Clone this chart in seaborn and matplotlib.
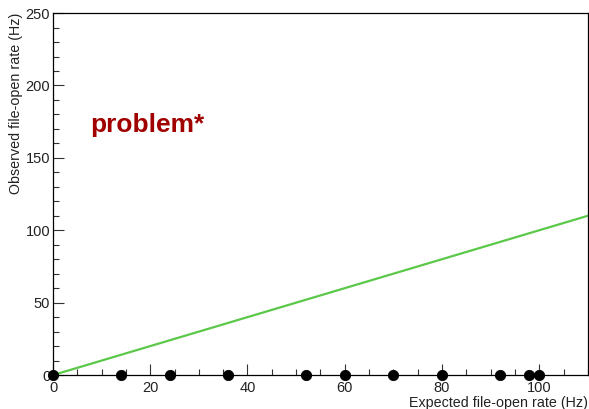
import matplotlib
matplotlib.use("Agg")
import matplotlib.pyplot as plt
from matplotlib.ticker import MultipleLocator
import seaborn as sns
import pandas as pd

# measured points (expected vs observed file-open rate)
expected_hz = [0, 14, 24, 36, 52, 60, 70, 80, 92, 98, 100]
observed_hz = [0, 0, 0, 0, 0, 0, 0, 0, 0, 0, 0]

# ideal y = x reference line
ideal_x = [0, 110]
ideal_y = [0, 110]

pts = pd.DataFrame({"expected": expected_hz, "observed": observed_hz})
ref = pd.DataFrame({"x": ideal_x, "y": ideal_y})

sns.set_theme(style="white")
plt.rcParams["font.family"] = ["Liberation Sans", "DejaVu Sans"]

fig = plt.figure(figsize=(5.89, 4.09), dpi=100)
ax = fig.add_axes([0.090, 0.083, 0.908, 0.885])

sns.lineplot(data=ref, x="x", y="y", ax=ax, color="#5cc84a", linewidth=1.6)
sns.scatterplot(data=pts, x="expected", y="observed", ax=ax, color="black",
                s=55, edgecolor="black", zorder=5, clip_on=False)

ax.set_xlim(0, 110)
ax.set_ylim(0, 250)
ax.xaxis.set_major_locator(MultipleLocator(20))
ax.xaxis.set_minor_locator(MultipleLocator(5))
ax.yaxis.set_major_locator(MultipleLocator(50))
ax.yaxis.set_minor_locator(MultipleLocator(10))
ax.tick_params(axis="both", which="major", direction="in", length=8, width=0.8,
               labelsize=10.5, colors="#333333", labelcolor="#222222", pad=2)
ax.tick_params(axis="x", which="major", pad=4)
ax.tick_params(axis="both", which="minor", direction="in", length=4, width=0.8,
               colors="#333333")
ax.tick_params(top=False, right=False, bottom=True, left=True, which="both")

for sp in ax.spines.values():
    sp.set_color("black")
    sp.set_linewidth(0.9)

ax.set_xlabel("Expected file-open rate (Hz)", fontsize=10.3, loc="right",
              labelpad=1, color="#222222")
ax.set_ylabel("Observed file-open rate (Hz)", fontsize=10.3, loc="top",
              labelpad=2, color="#222222")

ax.text(7.6, 173, "problem*", color="#a00000", fontsize=19, fontweight="bold",
        va="center", ha="left")

fig.savefig("out.png", dpi=100)
